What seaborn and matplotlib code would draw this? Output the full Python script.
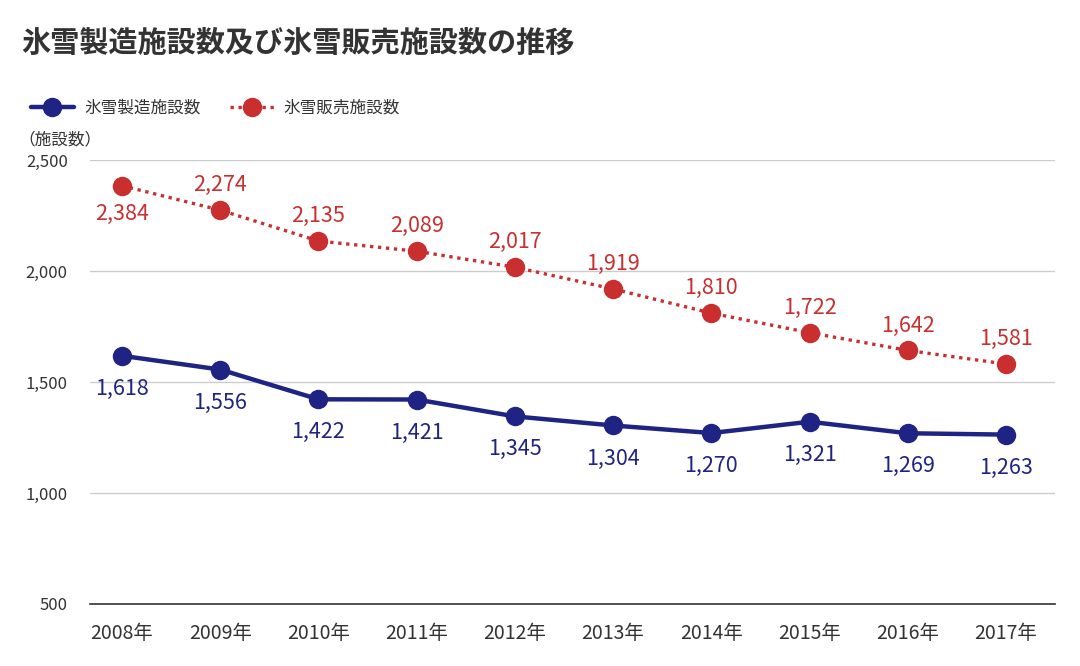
import pandas as pd
import matplotlib.pyplot as plt
import seaborn as sns

years = ['2008年', '2009年', '2010年', '2011年', '2012年', '2013年', '2014年', '2015年', '2016年', '2017年']
seizo = [1618, 1556, 1422, 1421, 1345, 1304, 1270, 1321, 1269, 1263]
hanbai = [2384, 2274, 2135, 2089, 2017, 1919, 1810, 1722, 1642, 1581]

blue = '#1f2383'
red = '#c92f2f'
txt = '#333333'

sns.set_theme(style='white')
plt.rcParams['font.family'] = ['Noto Sans CJK JP', 'DejaVu Sans']

df = pd.DataFrame({'x': range(len(years)), 'year': years, 'seizo': seizo, 'hanbai': hanbai})

fig = plt.figure(figsize=(10.8, 6.66), dpi=100)
ax = fig.add_axes([0.0833, 0.0931, 0.8937, 0.6667])

sns.lineplot(data=df, x='x', y='seizo', ax=ax, color=blue, lw=3.2, marker='o',
             markersize=14, markeredgewidth=0, label='氷雪製造施設数', clip_on=False)
sns.lineplot(data=df, x='x', y='hanbai', ax=ax, color=red, lw=2.4, linestyle=(0, (1, 1.4)),
             marker='o', markersize=14, markeredgewidth=0, label='氷雪販売施設数', clip_on=False)

for i, v in enumerate(seizo):
    ax.annotate(f'{v:,}', (i, v), xytext=(0, -33), textcoords='offset pixels',
                ha='center', va='center', color=blue, fontsize=15.5)
for i, v in enumerate(hanbai):
    dy = -28 if i == 0 else 25
    ax.annotate(f'{v:,}', (i, v), xytext=(0, dy), textcoords='offset pixels',
                ha='center', va='center', color=red, fontsize=15.5)

ax.set_xlim(-0.326, 9.5)
ax.set_ylim(500, 2500)
ax.set_yticks([500, 1000, 1500, 2000, 2500])
ax.set_yticklabels(['500', '1,000', '1,500', '2,000', '2,500'])
ax.set_xticks(range(len(years)))
ax.set_xticklabels(years)
ax.tick_params(axis='y', length=0, pad=16, labelsize=12, labelcolor=txt)
ax.tick_params(axis='x', length=0, pad=14, labelsize=14, labelcolor=txt)
ax.grid(axis='y', color='#cccccc', lw=1)
ax.set_xlabel('')
ax.set_ylabel('')
for s in ['top', 'right', 'left']:
    ax.spines[s].set_visible(False)
ax.spines['bottom'].set_color('#333333')
ax.spines['bottom'].set_linewidth(1.2)

ax.legend(loc='upper left', bbox_to_anchor=(-0.077, 1.17), ncol=2, frameon=False,
          fontsize=12, handlelength=2.6, columnspacing=1.8, handletextpad=0.6,
          labelcolor=txt)

fig.text(0.02, 0.935, '氷雪製造施設数及び氷雪販売施設数の推移', fontsize=21,
         fontweight='bold', color=txt, va='center')
fig.text(0.017, 0.79, '（施設数）', fontsize=12, color=txt, va='center')

fig.savefig('out.png', dpi=100)
